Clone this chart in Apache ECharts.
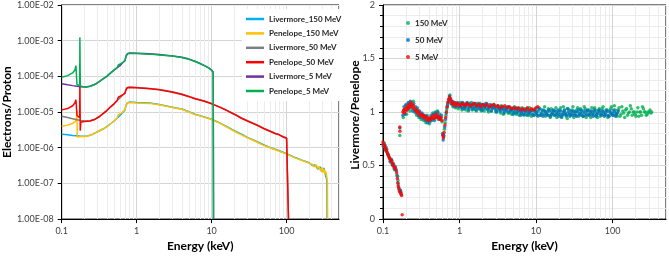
<!DOCTYPE html>
<html>
<head>
<meta charset="utf-8">
<script src="https://cdn.jsdelivr.net/npm/echarts@6/dist/echarts.min.js"></script>
<style>
  html, body { margin: 0; padding: 0; background: #fff; }
  #chart { width: 669px; height: 257px; }
</style>
</head>
<body>
<div id="chart"></div>
<script>
// ---- left panel: electrons per proton vs energy (keV) ----
const livermore150 = [[0.1,2.4e-6],[0.12,2.3e-6],[0.14,2.2e-6],[0.16,2.15e-6],[0.18,2.1e-6],[0.2,2.1e-6],[0.22,2.15e-6],[0.25,2.3e-6],[0.28,2.6e-6],[0.32,3.0e-6],[0.36,3.4e-6],[0.4,3.9e-6],[0.45,4.7e-6],[0.5,5.6e-6],[0.55,6.7e-6],[0.6,8e-6],[0.65,9.5e-6],[0.7,1.15e-5],[0.72,1.5e-5],[0.75,1.8e-5],[0.8,1.9e-5],[1,1.85e-5],[1.5,1.78e-5],[2,1.62e-5],[3,1.37e-5],[4,1.22e-5],[5,1.02e-5],[6,8.7e-6],[8,7.3e-6],[10,6.3e-6],[13,4.9e-6],[16,3.9e-6],[20,3.0e-6],[25,2.4e-6],[30,1.95e-6],[40,1.5e-6],[50,1.2e-6],[60,1.02e-6],[80,8.2e-7],[100,6.8e-7],[130,5.3e-7],[160,4.5e-7],[200,3.8e-7],[220,3.2e-7],[240,3.3e-7],[260,2.5e-7],[280,2.9e-7],[300,2.1e-7],[315,2.7e-7],[330,1.7e-7],[340,1.4e-7],[345,1.1e-7],[347,1e-8]];
const penelope150 = [[0.1,4.0e-6],[0.12,4.3e-6],[0.14,4.8e-6],[0.15,5.3e-6],[0.158,6.5e-6],[0.16,1.1e-5],[0.161,2.0e-6],[0.18,2.05e-6],[0.2,2.05e-6],[0.22,2.1e-6],[0.25,2.3e-6],[0.28,2.6e-6],[0.32,3.0e-6],[0.36,3.4e-6],[0.4,3.9e-6],[0.45,4.7e-6],[0.5,5.6e-6],[0.55,6.7e-6],[0.57,8.5e-6],[0.6,8.2e-6],[0.65,9.8e-6],[0.7,1.2e-5],[0.72,1.5e-5],[0.75,1.8e-5],[0.8,1.85e-5],[1,1.8e-5],[1.5,1.75e-5],[2,1.6e-5],[3,1.35e-5],[4,1.2e-5],[5,1.0e-5],[6,8.5e-6],[8,7.2e-6],[10,6.2e-6],[13,4.8e-6],[16,3.8e-6],[20,2.9e-6],[25,2.3e-6],[30,1.9e-6],[40,1.45e-6],[50,1.15e-6],[60,1.0e-6],[80,8e-7],[100,6.6e-7],[130,5.2e-7],[160,4.4e-7],[200,3.7e-7],[220,3.4e-7],[230,2.9e-7],[250,3.3e-7],[260,2.6e-7],[270,3.0e-7],[285,2.2e-7],[295,2.8e-7],[305,2.0e-7],[315,2.6e-7],[325,1.8e-7],[335,2.1e-7],[345,1.4e-7],[350,1.1e-7],[352,1e-8]];
const livermore50 = [[0.1,7.6e-6],[0.12,7.0e-6],[0.14,6.5e-6],[0.16,6.1e-6],[0.18,5.8e-6],[0.2,5.6e-6],[0.24,5.7e-6],[0.28,6.3e-6],[0.32,7.5e-6],[0.36,9.2e-6],[0.4,1.1e-5],[0.45,1.4e-5],[0.5,1.7e-5],[0.55,2.1e-5],[0.6,2.5e-5],[0.65,3.0e-5],[0.7,3.4e-5],[0.72,4.3e-5],[0.75,4.9e-5],[0.8,5.0e-5],[1,4.9e-5],[1.5,4.6e-5],[2,4.3e-5],[3,3.7e-5],[4,3.2e-5],[5,2.75e-5],[6,2.4e-5],[8,2.05e-5],[10,1.72e-5],[13,1.37e-5],[16,1.12e-5],[20,8.8e-6],[25,6.8e-6],[30,5.7e-6],[40,4.4e-6],[50,3.5e-6],[60,2.95e-6],[70,2.55e-6],[80,2.3e-6],[90,2.05e-6],[100,1.9e-6],[105,1.75e-6],[106,1e-8]];
const penelope50 = [[0.1,1.15e-5],[0.12,1.25e-5],[0.14,1.5e-5],[0.15,1.8e-5],[0.155,2.2e-5],[0.158,2.4e-5],[0.16,8e-6],[0.174,7e-6],[0.175,1.2e-4],[0.177,3e-6],[0.18,5.2e-6],[0.2,5.4e-6],[0.24,5.6e-6],[0.28,6.3e-6],[0.32,7.5e-6],[0.36,9.2e-6],[0.4,1.1e-5],[0.45,1.4e-5],[0.5,1.7e-5],[0.55,2.1e-5],[0.57,2.6e-5],[0.6,2.5e-5],[0.65,3.0e-5],[0.7,3.4e-5],[0.72,4.2e-5],[0.75,4.8e-5],[0.8,4.9e-5],[1,4.8e-5],[1.5,4.5e-5],[2,4.2e-5],[3,3.6e-5],[4,3.1e-5],[5,2.7e-5],[6,2.35e-5],[8,2.0e-5],[10,1.7e-5],[13,1.35e-5],[16,1.1e-5],[20,8.7e-6],[25,6.7e-6],[30,5.6e-6],[40,4.3e-6],[50,3.4e-6],[60,2.9e-6],[70,2.5e-6],[80,2.3e-6],[90,2.0e-6],[100,1.85e-6],[105,1.75e-6],[106,1e-8]];
const livermore5 = [[0.1,6.2e-5],[0.12,5.8e-5],[0.14,5.5e-5],[0.16,5.3e-5],[0.18,5.1e-5],[0.21,5.0e-5],[0.24,5.3e-5],[0.28,6.0e-5],[0.32,7.2e-5],[0.36,8.6e-5],[0.4,1.0e-4],[0.45,1.25e-4],[0.5,1.5e-4],[0.55,1.75e-4],[0.6,2.0e-4],[0.65,2.4e-4],[0.7,2.8e-4],[0.72,3.7e-4],[0.75,4.3e-4],[0.8,4.5e-4],[1,4.45e-4],[1.5,4.3e-4],[2,4.1e-4],[3,3.75e-4],[4,3.45e-4],[5,3.05e-4],[6,2.65e-4],[7,2.3e-4],[8,2.0e-4],[9,1.75e-4],[10,1.5e-4],[10.5,1.3e-4],[10.6,1e-8]];
const penelope5 = [[0.1,9.5e-5],[0.12,1.05e-4],[0.14,1.25e-4],[0.15,1.5e-4],[0.155,2.0e-4],[0.158,2.1e-4],[0.16,5.8e-5],[0.174,5.6e-5],[0.175,1.25e-3],[0.177,5.4e-5],[0.19,5.2e-5],[0.21,5.0e-5],[0.24,5.3e-5],[0.28,6.0e-5],[0.32,7.2e-5],[0.36,8.6e-5],[0.4,1.0e-4],[0.45,1.25e-4],[0.5,1.5e-4],[0.55,1.75e-4],[0.57,2.1e-4],[0.6,2.0e-4],[0.65,2.4e-4],[0.7,2.8e-4],[0.72,3.6e-4],[0.75,4.2e-4],[0.8,4.4e-4],[1,4.35e-4],[1.5,4.2e-4],[2,4.0e-4],[3,3.7e-4],[4,3.4e-4],[5,3.0e-4],[6,2.6e-4],[7,2.3e-4],[8,2.0e-4],[9,1.75e-4],[10,1.5e-4],[10.5,1.3e-4],[10.6,1e-8]];

// ---- right panel: Livermore/Penelope ratio vs energy (keV) ----
const ratio150 = [[0.101,0.68],[0.104,0.71],[0.107,0.65],[0.11,0.67],[0.114,0.62],[0.118,0.60],[0.122,0.57],[0.126,0.53],[0.13,0.55],[0.134,0.50],[0.138,0.51],[0.142,0.46],[0.147,0.47],[0.152,0.41],[0.157,0.36],[0.16,0.30],[0.166,0.78],[0.167,0.27],[0.172,0.25],
  [0.184,0.95],[0.19,1.02],[0.197,1.06],[0.203,0.98],[0.21,1.04],[0.218,1.08],[0.225,1.01],[0.233,1.07],[0.241,1.03],[0.249,1.10],[0.257,1.00],[0.266,1.05],[0.275,0.97],[0.285,1.02],[0.295,0.95],[0.305,0.99],[0.316,0.93],[0.328,0.98],[0.34,0.92],[0.352,0.95],[0.364,0.90],[0.377,0.97],[0.39,0.92],[0.404,0.89],[0.418,0.95],[0.433,0.92],[0.448,0.99],[0.463,0.94],[0.48,1.00],[0.497,0.96],[0.514,1.01],[0.532,0.93],[0.55,0.98],[0.57,0.95],[0.59,0.91],[0.608,0.79],[0.62,0.77],
  [0.637,0.84],[0.65,0.90],[0.665,0.97],[0.68,1.02],[0.695,1.06],[0.71,1.09],[0.73,1.12],[0.75,1.16],[0.77,1.11],[0.795,1.07],[0.82,1.05],[0.85,1.09],[0.88,1.04],[0.92,1.07],[0.96,1.03],
  [1.0,1.05],[1.025,1.09],[1.05,1.08],[1.075,1.02],[1.1,1.03],[1.125,1.07],[1.15,1.06],[1.18,1.04],[1.21,1.02],[1.24,1.08],[1.27,1.07],[1.3,1.01],[1.33,1.04],[1.365,1.05],[1.4,1.06],[1.435,1.09],[1.47,1.02],[1.51,1.03],[1.55,1.05],[1.59,1.07],[1.63,1.08],[1.67,1.01],[1.71,1.03],[1.755,1.05],[1.8,1.06],[1.845,1.08],[1.89,1.02],[1.94,1.01],[1.99,1.05],[2.045,1.07],[2.1,1.01],[2.155,1.03],[2.21,1.06],[2.27,1.08],[2.33,1.03],[2.395,1.00],[2.46,1.05],[2.53,1.06],[2.6,1.01],[2.67,1.03],[2.74,1.04],[2.82,1.07],[2.9,1.06],[2.985,1.00],[3.07,1.01],[3.155,1.05],[3.24,1.03],[3.335,1.02],[3.43,0.99],[3.53,1.06],[3.63,1.04],[3.735,0.98],[3.84,1.00],[3.95,1.03],[4.06,1.03],[4.18,1.05],[4.3,0.99],[4.425,0.99],[4.55,1.02],[4.68,1.04],[4.81,0.98],[4.95,1.00],[5.09,1.03],[5.235,1.05],[5.38,0.99],[5.535,0.98],[5.69,1.02],[5.855,1.03],[6.02,0.97],[6.195,0.99],[6.37,1.01],[6.555,1.04],[6.74,0.98],[6.935,0.97],[7.13,1.03],[7.335,1.02],[7.54,0.97],[7.76,0.99],[7.98,1.01],[8.21,1.04],[8.44,0.98],[8.685,0.96],[8.93,1.02],[9.19,1.01],[9.45,0.97],[9.72,1.03],
  [10.0,1.01],[10.3,0.98],[10.6,0.96],[10.9,1.04],[11.2,1.03],[11.55,0.97],[11.9,0.98],[12.25,1.01],[12.6,1.02],[12.95,1.05],[13.3,0.96],[13.7,0.98],[14.1,1.00],[14.5,1.03],[14.9,0.97],[15.35,0.95],[15.8,1.03],[16.25,1.01],[16.7,0.98],[17.2,0.97],[17.7,1.01],[18.2,1.04],[18.7,0.95],[19.25,0.98],[19.8,1.00],[20.4,1.02],[21.0,1.04],[21.6,0.96],[22.2,0.97],[22.85,1.05],[23.5,1.01],[24.2,0.99],[24.9,0.96],[25.6,0.94],[26.3,1.03],[27.1,1.02],[27.9,0.98],[28.7,0.97],[29.5,1.02],[30.35,1.05],[31.2,0.95],[32.1,0.98],[33.0,1.00],[34.0,1.02],[35.0,1.04],[36.0,0.96],[37.0,0.97],[38.1,1.03],[39.2,1.01],[40.35,0.99],[41.5,0.96],[42.7,1.05],[43.9,1.03],[45.2,0.95],[46.5,0.98],[47.85,1.01],[49.2,1.02],[50.65,0.97],[52.1,0.95],[53.6,1.04],[55.1,1.00],[56.7,0.98],[58.3,1.04],[60.0,1.02],[61.7,0.97],[63.5,0.95],[65.3,1.01],[67.2,1.03],[69.1,0.96],[71.1,0.99],[73.1,1.03],[75.25,1.05],[77.4,0.98],[79.65,0.97],[81.9,1.02],[84.3,1.01],[86.7,0.95],[89.2,0.96],[91.7,1.00],[94.4,1.03],[97.1,1.05],[99.9,0.99],[102.7,0.97],[105.7,1.06],[108.7,1.02],[111.8,0.98],[115.0,0.96],[118.3,1.02],[121.7,1.04],[125.2,0.96],[128.8,0.98],[132.5,1.05],[136.3,1.01],[140.2,0.99],[144.2,0.95],[148.4,1.02],[152.6,1.03],[157.0,0.97],[161.5,0.99],[166.1,1.00],[170.9,1.06],[175.8,1.03],[180.8,0.97],[186.0,1.00],[191.3,1.00],[196.8,0.98],[202.4,0.96],[208.3,1.00],[214.2,1.04],[220.4,0.96],[226.6,1.00],[233.2,1.00],[239.8,0.97],[246.7,1.05],[253.7,1.03],[261.0,1.00],[268.4,1.00],[276.2,0.97],[284.0,0.98],[292.2,1.00],[300.5,1.00],[309.2,1.02],[318.0,0.99],[325.0,1.00]];
const ratio50 = [[0.100,0.70],[0.103,0.68],[0.106,0.69],[0.109,0.64],[0.112,0.65],[0.116,0.60],[0.12,0.58],[0.124,0.54],[0.128,0.56],[0.132,0.51],[0.136,0.52],[0.14,0.47],[0.145,0.49],[0.15,0.45],[0.155,0.40],[0.158,0.33],[0.162,0.28],[0.166,0.85],[0.169,0.27],[0.173,0.23],
  [0.182,0.97],[0.188,1.05],[0.194,0.98],[0.2,1.07],[0.207,1.02],[0.214,1.09],[0.221,1.04],[0.228,1.10],[0.236,1.06],[0.244,1.01],[0.252,1.08],[0.26,1.02],[0.27,0.99],[0.28,1.04],[0.29,0.97],[0.3,1.01],[0.31,0.95],[0.322,0.99],[0.334,0.94],[0.346,0.97],[0.358,0.92],[0.37,0.96],[0.383,0.90],[0.396,0.94],[0.41,0.91],[0.425,0.97],[0.44,0.93],[0.455,0.98],[0.47,0.92],[0.487,0.99],[0.504,0.95],[0.522,1.00],[0.54,0.96],[0.56,0.94],[0.58,0.97],[0.6,0.80],[0.612,0.74],[0.625,0.78],
  [0.64,0.86],[0.655,0.93],[0.67,0.99],[0.685,1.04],[0.7,1.07],[0.72,1.10],[0.74,1.15],[0.76,1.13],[0.78,1.08],[0.81,1.10],[0.84,1.06],[0.87,1.08],[0.9,1.05],[0.94,1.09],[0.98,1.05],
  [1.02,1.07],[1.045,1.05],[1.07,1.04],[1.095,1.09],[1.12,1.08],[1.145,1.03],[1.17,1.05],[1.2,1.06],[1.23,1.07],[1.26,1.09],[1.29,1.04],[1.325,1.02],[1.36,1.08],[1.395,1.06],[1.43,1.05],[1.465,1.03],[1.5,1.07],[1.54,1.08],[1.58,1.04],[1.62,1.02],[1.66,1.06],[1.705,1.05],[1.75,1.08],[1.795,1.03],[1.84,1.05],[1.89,1.07],[1.94,1.03],[1.99,1.02],[2.04,1.07],[2.095,1.05],[2.15,1.04],[2.21,1.08],[2.27,1.06],[2.335,1.02],[2.4,1.03],[2.465,1.05],[2.53,1.07],[2.6,1.01],[2.67,1.04],[2.745,1.06],[2.82,1.05],[2.9,1.03],[2.98,1.02],[3.065,1.00],[3.15,1.06],[3.24,1.04],[3.33,1.03],[3.425,1.01],[3.52,1.05],[3.62,1.03],[3.72,1.02],[3.825,0.99],[3.93,1.04],[4.04,1.02],[4.15,1.01],[4.265,1.04],[4.38,1.05],[4.5,1.00],[4.63,1.02],[4.765,1.02],[4.9,1.03],[5.04,0.98],[5.18,1.00],[5.33,1.02],[5.48,1.04],[5.64,0.99],[5.8,1.01],[5.965,1.01],[6.13,1.03],[6.305,0.97],[6.48,0.99],[6.665,1.01],[6.85,1.02],[7.05,0.98],[7.25,1.00],[7.46,1.01],[7.67,1.03],[7.885,0.97],[8.1,0.99],[8.335,1.00],[8.57,1.01],[8.815,1.02],[9.06,0.98],[9.32,0.97],[9.58,1.02],[9.84,1.00],
  [10.1,0.99],[10.4,0.97],[10.7,1.01],[11.0,1.03],[11.3,0.97],[11.65,0.99],[12.0,1.02],[12.35,0.96],[12.7,0.98],[13.05,1.01],[13.4,1.00],[13.8,0.98],[14.2,0.97],[14.6,1.02],[15.0,1.01],[15.45,0.96],[15.9,0.98],[16.35,0.99],[16.8,1.02],[17.3,1.01],[17.8,0.97],[18.3,0.98],[18.8,1.00],[19.35,1.02],[19.9,0.96],[20.45,0.98],[21.0,1.01],[21.6,0.95],[22.2,0.98],[22.85,1.00],[23.5,1.02],[24.2,0.98],[24.9,0.97],[25.6,1.03],[26.3,1.00],[27.05,0.98],[27.8,0.96],[28.6,1.01],[29.4,0.99],[30.25,0.97],[31.1,1.01],[32.0,1.00],[32.9,0.97],[33.85,0.96],[34.8,1.00],[35.8,1.02],[36.8,0.98],[37.85,0.99],[38.9,1.02],[40.0,0.97],[41.1,0.96],[42.3,1.01],[43.5,0.99],[44.75,0.97],[46.0,1.01],[47.3,1.02],[48.6,0.97],[50.0,0.98],[51.4,1.00],[52.9,1.01],[54.4,0.98],[55.95,0.96],[57.5,1.02],[59.15,1.00],[60.8,0.96],[62.55,0.98],[64.3,0.99],[66.15,1.02],[68.0,1.01],[69.95,0.98],[71.9,0.97],[73.95,1.01],[76.0,1.00],[78.2,0.96],[80.4,0.98],[82.7,1.00],[85.0,1.02],[87.45,0.97],[89.9,0.96],[92.5,1.01],[95.1,0.99],[97.8,0.98],[100.5,0.97],[103.4,1.02],[106.3,1.00],[109.3,0.96],[112.4,0.98],[115.6,0.99],[118.8,1.01]];
const ratio5 = [[0.100,0.72],[0.102,0.70],[0.104,0.69],[0.106,0.67],[0.108,0.66],[0.110,0.64],[0.112,0.63],[0.115,0.61],[0.118,0.59],[0.121,0.57],[0.124,0.56],[0.127,0.55],[0.130,0.54],[0.133,0.52],[0.136,0.50],[0.139,0.49],[0.143,0.48],[0.147,0.46],[0.151,0.43],[0.154,0.38],[0.156,0.34],[0.158,0.31],[0.161,0.29],[0.164,0.26],[0.166,0.86],[0.1665,0.82],[0.168,0.25],[0.171,0.24],[0.175,0.22],[0.178,0.04],
  [0.182,1.00],[0.186,1.02],[0.19,0.99],[0.195,1.03],[0.2,1.01],[0.205,1.04],[0.21,1.06],[0.215,1.03],[0.22,1.07],[0.226,1.05],[0.232,1.09],[0.238,1.07],[0.245,1.04],[0.252,1.06],[0.26,1.03],[0.268,1.01],[0.276,1.02],[0.285,0.99],[0.294,1.00],[0.303,0.97],[0.313,0.98],[0.323,0.96],[0.334,0.97],[0.345,0.95],[0.356,0.96],[0.368,0.93],[0.38,0.95],[0.392,0.92],[0.405,0.94],[0.418,0.93],[0.432,0.95],[0.446,0.96],[0.46,0.94],[0.475,0.97],[0.49,0.95],[0.506,0.98],[0.522,0.96],[0.539,0.94],[0.556,0.93],[0.574,0.95],[0.592,0.92],[0.605,0.78],[0.615,0.76],[0.63,0.81],[0.645,0.88],[0.66,0.95],[0.675,1.00],[0.69,1.05],[0.705,1.09],[0.72,1.12],[0.74,1.14],[0.76,1.12],[0.78,1.10],[0.8,1.08],[0.83,1.07],[0.86,1.09],[0.9,1.06],[0.94,1.08],[0.98,1.07],
  [1.03,1.06],[1.08,1.08],[1.13,1.07],[1.19,1.06],[1.25,1.08],[1.32,1.07],[1.4,1.06],[1.48,1.07],[1.57,1.08],[1.67,1.06],[1.78,1.07],[1.9,1.05],[2.0,1.07],[2.15,1.06],[2.3,1.07],[2.45,1.05],[2.6,1.06],[2.8,1.07],[3.0,1.05],[3.2,1.06],[3.4,1.04],[3.65,1.05],[3.9,1.06],[4.2,1.04],[4.5,1.05],[4.8,1.03],[5.1,1.04],[5.5,1.03],[5.9,1.04],[6.3,1.02],[6.7,1.03],[7.2,1.02],[7.7,1.04],[8.2,1.02],[8.8,1.03],[9.4,1.02],[10.0,1.04],[10.5,1.05]];

const leftNames = ['Livermore_150 MeV', 'Penelope_150 MeV', 'Livermore_50 MeV', 'Penelope_50 MeV', 'Livermore_5 MeV', 'Penelope_5 MeV'];
const leftColors = ['#00b0f0', '#ffc000', '#7f7f7f', '#ff0000', '#7030a0', '#00b050'];
const leftData = [livermore150, penelope150, livermore50, penelope50, livermore5, penelope5];
const rightNames = ['150 MeV', '50 MeV', '5 MeV'];
const rightColors = ['#00b050', '#0070c0', '#ff0000'];
const rightData = [ratio150, ratio50, ratio5];

// minor grid positions (2..9 within each decade)
const xDecades = [0.1, 1, 10, 100];
const yDecades = [1e-8, 1e-7, 1e-6, 1e-5, 1e-4, 1e-3];
const minorX = [];
xDecades.forEach(d => { for (let k = 2; k <= 9; k++) if (d * k <= 500) minorX.push({ xAxis: d * k }); });
const minorY = [];
yDecades.forEach(d => { for (let k = 2; k <= 9; k++) minorY.push({ yAxis: d * k }); });

const chart = echarts.init(document.getElementById('chart'));
const labelFont = { fontFamily: 'Lato, sans-serif', fontSize: 9, color: '#404040' };
const titleFont = { fontFamily: 'Lato, sans-serif', fontSize: 12, fontWeight: 'bold', color: '#000' };
const legendFont = { fontFamily: 'Lato, sans-serif', fontSize: 8, fontWeight: 'bold', color: '#262626' };

function fmtE(v) {
  const e = Math.round(Math.log10(v));
  return '1.00E' + (e < 0 ? '-' : '+') + String(Math.abs(e)).padStart(2, '0');
}
function fmtX(v) { return String(+(+v).toPrecision(6)); }

const minorLine = { color: '#ececec', width: 1, type: 'solid' };

const logX = (gridIndex) => ({
  type: 'log', logBase: 10, min: 0.1, max: 500, gridIndex,
  name: 'Energy (keV)', nameLocation: 'middle', nameGap: 20, nameTextStyle: titleFont,
  axisLine: { lineStyle: { color: '#000', width: 1 } },
  axisTick: { show: true, length: 4, lineStyle: { color: '#000' } },
  axisLabel: Object.assign({ formatter: fmtX, showMaxLabel: false, margin: 7 }, labelFont),
  splitLine: { show: true, lineStyle: { color: '#d4d4d4' } }
});

const series = [];
leftData.forEach((d, i) => {
  const s = {
    name: leftNames[i], type: 'line', data: d, xAxisIndex: 0, yAxisIndex: 0,
    symbol: 'none', showSymbol: false, color: leftColors[i],
    lineStyle: { width: 1.5, color: leftColors[i] }
  };
  if (i === 0) {
    s.markLine = { silent: true, symbol: 'none', label: { show: false }, lineStyle: minorLine, data: minorX.concat(minorY), z: 0 };
  }
  series.push(s);
});
rightData.forEach((d, i) => {
  const s = {
    name: rightNames[i], type: 'scatter', data: d, xAxisIndex: 1, yAxisIndex: 1,
    symbolSize: 3.5, color: rightColors[i], itemStyle: { color: rightColors[i] }
  };
  if (i === 0) {
    s.markLine = { silent: true, symbol: 'none', label: { show: false }, lineStyle: minorLine, data: minorX, z: 0 };
  }
  series.push(s);
});

chart.setOption({
  animation: false,
  backgroundColor: '#fff',
  grid: [
    { left: 57, top: 5, width: 282, height: 219, show: true, borderColor: '#000', borderWidth: 1 },
    { left: 383, top: 5, width: 283, height: 219, show: true, borderColor: '#000', borderWidth: 1 }
  ],
  legend: [
    {
      data: leftNames, orient: 'vertical', left: 242, top: 9, itemGap: 4.4,
      icon: 'rect', itemWidth: 18, itemHeight: 2.5, backgroundColor: '#fff', padding: [5, 4, 5, 4],
      textStyle: Object.assign({ lineHeight: 10, height: 10 }, legendFont)
    },
    {
      data: rightNames, orient: 'vertical', left: 401, top: 14, itemGap: 9,
      icon: 'circle', itemWidth: 4, itemHeight: 4,
      textStyle: legendFont
    }
  ],
  graphic: [
    {
      type: 'text', x: 355, y: 115, rotation: Math.PI / 2,
      style: { text: 'Livermore/Penelope', align: 'center', verticalAlign: 'middle',
        font: 'bold 12px Lato, sans-serif', fill: '#000' }
    }
  ],
  xAxis: [logX(0), logX(1)],
  yAxis: [
    {
      type: 'log', logBase: 10, min: 1e-8, max: 1e-2, gridIndex: 0, splitNumber: 6,
      name: 'Electrons/Proton', nameLocation: 'middle', nameGap: 43, nameTextStyle: titleFont,
      axisLine: { show: true, lineStyle: { color: '#000', width: 1 } },
      axisTick: { show: true, length: 4, lineStyle: { color: '#000' } },
      axisLabel: Object.assign({ formatter: fmtE, margin: 8 }, labelFont),
      splitLine: { show: true, lineStyle: { color: '#d4d4d4' } }
    },
    {
      type: 'value', min: 0, max: 2, interval: 0.5, gridIndex: 1,
      axisLine: { show: true, lineStyle: { color: '#000', width: 1 } },
      axisTick: { show: true, length: 4, lineStyle: { color: '#000' } },
      minorTick: { show: true, splitNumber: 5, length: 3, lineStyle: { color: '#000' } },
      minorSplitLine: { show: true, lineStyle: minorLine },
      axisLabel: Object.assign({ margin: 8 }, labelFont),
      splitLine: { show: true, lineStyle: { color: '#d4d4d4' } }
    }
  ],
  series
});
</script>
</body>
</html>
